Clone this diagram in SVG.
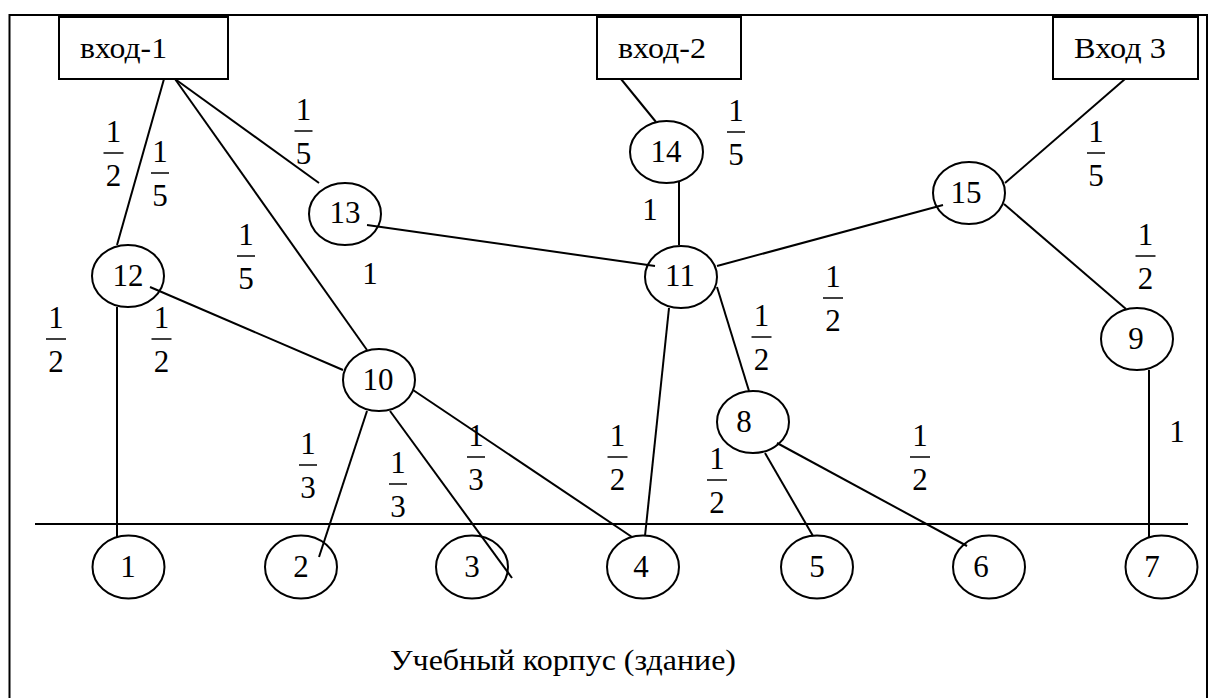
<svg xmlns="http://www.w3.org/2000/svg" width="1210" height="698" viewBox="0 0 1210 698" font-family="'Liberation Serif', 'Times New Roman', Times, 'Noto Serif', 'DejaVu Serif', serif">
  <defs>
    <style>
      text { font-family: 'Liberation Serif', 'Times New Roman', Times, 'Noto Serif', 'DejaVu Serif', serif; fill: #000; }
      .t { font-size: 30px; }
      .n { font-size: 31px; text-anchor: middle; }
      .f { font-size: 31px; text-anchor: middle; }
      .box { fill: #fff; stroke: #000; stroke-width: 2; }
      .node { fill: none; stroke: #000; stroke-width: 2; }
      .edge { stroke: #000; stroke-width: 2; fill: none; }
      .bar { stroke: #000; stroke-width: 1.5; }
    </style>
    <!-- fraction templates: origin at the centre of the bar -->
    <g id="half">
      <text class="f" x="0" y="-11">1</text>
      <line class="bar" x1="-10" y1="0" x2="10" y2="0"/>
      <text class="f" x="0" y="33">2</text>
    </g>
    <g id="third">
      <text class="f" x="0" y="-11">1</text>
      <line class="bar" x1="-9" y1="0" x2="9" y2="0"/>
      <text class="f" x="0" y="33">3</text>
    </g>
    <g id="fifth">
      <text class="f" x="0" y="-11">1</text>
      <line class="bar" x1="-9" y1="0" x2="9" y2="0"/>
      <text class="f" x="0" y="33">5</text>
    </g>
  </defs>

  <rect width="1210" height="698" fill="#fff"/>

  <!-- building outline -->
  <rect x="9.5" y="15" width="1197.5" height="720" fill="none" stroke="#000" stroke-width="2"/>

  <!-- entrances -->
  <g id="entry-1">
    <rect class="box" x="59" y="17" width="169" height="62"/>
    <text class="t" x="80" y="58" textLength="87" lengthAdjust="spacingAndGlyphs">вход-1</text>
  </g>
  <g id="entry-2">
    <rect class="box" x="597" y="17" width="144" height="62"/>
    <text class="t" x="618" y="58" textLength="88" lengthAdjust="spacingAndGlyphs">вход-2</text>
  </g>
  <g id="entry-3">
    <rect class="box" x="1053" y="17" width="145" height="62"/>
    <text class="t" x="1074" y="58" textLength="92" lengthAdjust="spacingAndGlyphs">Вход 3</text>
  </g>

  <!-- corridor junctions -->
  <g id="node-8"><ellipse class="node" cx="753" cy="422" rx="36" ry="31"/><text class="n" x="744" y="432">8</text></g>
  <g id="node-9"><ellipse class="node" cx="1137" cy="339" rx="36" ry="31"/><text class="n" x="1136" y="349">9</text></g>
  <g id="node-10"><ellipse class="node" cx="379" cy="380" rx="36" ry="31"/><text class="n" x="378" y="390">10</text></g>
  <g id="node-11"><ellipse class="node" cx="681" cy="277" rx="36" ry="31"/><text class="n" x="680" y="286">11</text></g>
  <g id="node-12"><ellipse class="node" cx="128" cy="276" rx="36" ry="31"/><text class="n" x="128" y="286">12</text></g>
  <g id="node-13"><ellipse class="node" cx="345" cy="214" rx="36" ry="31"/><text class="n" x="345" y="223">13</text></g>
  <g id="node-14"><ellipse class="node" cx="666.5" cy="152" rx="36.5" ry="31"/><text class="n" x="666" y="162">14</text></g>
  <g id="node-15"><ellipse class="node" cx="969" cy="193" rx="36" ry="31"/><text class="n" x="966" y="203">15</text></g>

  <!-- rooms below the corridor line -->
  <g id="node-1"><ellipse class="node" cx="128.5" cy="567" rx="36" ry="31.5"/><text class="n" x="128" y="577">1</text></g>
  <g id="node-2"><ellipse class="node" cx="301" cy="567" rx="36" ry="31.5"/><text class="n" x="301" y="577">2</text></g>
  <g id="node-3"><ellipse class="node" cx="472" cy="567" rx="36" ry="31.5"/><text class="n" x="472" y="577">3</text></g>
  <g id="node-4"><ellipse class="node" cx="643" cy="567" rx="36" ry="31.5"/><text class="n" x="641" y="577">4</text></g>
  <g id="node-5"><ellipse class="node" cx="817" cy="567" rx="36" ry="31.5"/><text class="n" x="817" y="577">5</text></g>
  <g id="node-6"><ellipse class="node" cx="989" cy="567" rx="36" ry="31.5"/><text class="n" x="981" y="577">6</text></g>
  <g id="node-7"><ellipse class="node" cx="1161.5" cy="567" rx="36" ry="31.5"/><text class="n" x="1152" y="577">7</text></g>

  <!-- connectors -->
  <g id="connectors" class="edge">
    <line x1="35" y1="524" x2="1188" y2="524"/>
    <line x1="164" y1="79" x2="117" y2="245"/>
    <line x1="175" y1="79" x2="367" y2="350"/>
    <line x1="175" y1="79" x2="319" y2="183"/>
    <line x1="621" y1="79" x2="656" y2="122"/>
    <line x1="1125" y1="79" x2="1005" y2="183"/>
    <line x1="367" y1="225" x2="655" y2="266"/>
    <line x1="679" y1="182" x2="679" y2="245"/>
    <line x1="943" y1="205" x2="717" y2="266"/>
    <line x1="1004" y1="204" x2="1126" y2="309"/>
    <line x1="150" y1="287" x2="343" y2="370"/>
    <line x1="117" y1="307" x2="117" y2="537"/>
    <line x1="367" y1="411" x2="319" y2="557"/>
    <line x1="390" y1="411" x2="512" y2="578"/>
    <line x1="413" y1="390" x2="632" y2="537"/>
    <line x1="669" y1="308" x2="645" y2="536"/>
    <line x1="717" y1="287" x2="749" y2="391"/>
    <line x1="765" y1="453" x2="813" y2="536"/>
    <line x1="777" y1="443" x2="967" y2="546"/>
    <line x1="1149" y1="370" x2="1149" y2="537"/>
  </g>

  <!-- weights -->
  <g id="weights">
    <use href="#half" x="113.5" y="153"/>
    <use href="#fifth" x="160" y="173"/>
    <use href="#fifth" x="303.5" y="131"/>
    <use href="#fifth" x="736" y="132"/>
    <use href="#fifth" x="1096" y="153"/>
    <use href="#fifth" x="246" y="256"/>
    <use href="#half" x="1145.5" y="256"/>
    <use href="#half" x="833" y="298"/>
    <use href="#half" x="56" y="339"/>
    <use href="#half" x="161.5" y="339"/>
    <use href="#half" x="761.5" y="337"/>
    <use href="#third" x="308" y="465"/>
    <use href="#third" x="398" y="484"/>
    <use href="#third" x="476" y="457"/>
    <use href="#half" x="617.5" y="457"/>
    <use href="#half" x="717" y="480"/>
    <use href="#half" x="920" y="457"/>
    <text class="f" x="650" y="220">1</text>
    <text class="f" x="370" y="284">1</text>
    <text class="f" x="1177" y="442">1</text>
  </g>

  <text class="t" x="390" y="670" font-size="31" textLength="346" lengthAdjust="spacingAndGlyphs">Учебный корпус (здание)</text>
</svg>
